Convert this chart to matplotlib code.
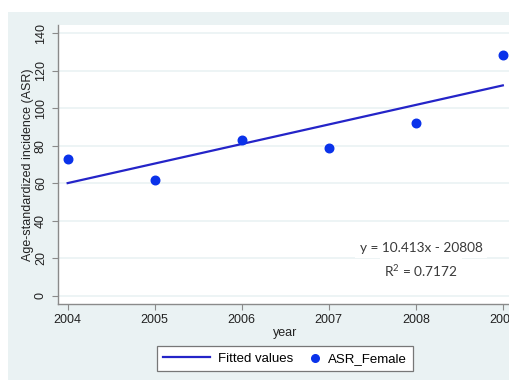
import numpy as np
import matplotlib
matplotlib.use("Agg")
import matplotlib.pyplot as plt
from matplotlib.patches import Rectangle
from matplotlib.legend_handler import HandlerPathCollection

# data
years = [2004, 2005, 2006, 2007, 2008, 2009]
asr_female = [72.7, 61.7, 82.8, 78.9, 91.9, 128.3]
y_ticks = [0, 20, 40, 60, 80, 100, 120, 140]
eq_text = "y = 10.413x - 20808"
r2_text = "R$^2$ = 0.7172"

plt.rcParams['font.family'] = ['Liberation Sans', 'DejaVu Sans']
plt.rcParams['mathtext.fontset'] = 'custom'
plt.rcParams['mathtext.rm'] = 'Lato'


# dot sits at the right end of the handle box, next to its label
class RightDot(HandlerPathCollection):
    def get_xdata(self, legend, xdescent, ydescent, width, height, fontsize):
        x = [width - xdescent - 3.6]
        return x, x


fig = plt.figure(figsize=(5.1, 3.8), dpi=100)
fig.patch.set_facecolor("white")
# light stata-like background
fig.patches.append(Rectangle((8 / 510, 0), 1, (380 - 12) / 380, transform=fig.transFigure,
                             facecolor="#eaf2f3", edgecolor="none", zorder=-5))

ax = fig.add_axes([58 / 510, (380 - 303.7) / 380, 457 / 510, 278.7 / 380])
ax.set_facecolor("white")

# linear fit
coef = np.polyfit(years, asr_female, 1)
fit = np.polyval(coef, years)
ax.plot(years, fit, color="#2424c8", lw=1.6, label="Fitted values", zorder=3)
sc = ax.scatter(years, asr_female, s=38, color="#0a32ea", label="ASR_Female", zorder=4, clip_on=False)

ax.set_xlim(2003.889, 2009.14)
ax.set_ylim(-4.3, 144.3)
ax.set_xticks(years)
ax.set_yticks(y_ticks)
ax.yaxis.grid(True, color="#eaf2f3", lw=1.2)
ax.set_axisbelow(True)

for s in ["top", "right"]:
    ax.spines[s].set_visible(False)
for s in ["left", "bottom"]:
    ax.spines[s].set_color("#8a8a8a")
    ax.spines[s].set_linewidth(1.0)
ax.tick_params(colors="#8a8a8a", length=4, labelcolor="#222222", labelsize=9)
ax.tick_params(axis="y", pad=4)
for lb in ax.get_yticklabels():
    lb.set_rotation(90)
    lb.set_va("center")

ax.set_ylabel("Age-standardized incidence (ASR)", fontsize=9, color="#222222")
ax.yaxis.set_label_coords(-0.052, 0.5)
ax.set_xlabel("year", fontsize=9, color="#222222")
ax.xaxis.set_label_coords(0.497, -0.084)

eq_font = ["Lato", "DejaVu Sans"]
ax.text(421 / 510, (380 - 247.7) / 380, eq_text, transform=fig.transFigure,
        ha="center", va="center", fontsize=9.8, family=eq_font, color="#3a3a3a",
        bbox=dict(facecolor="white", edgecolor="none", pad=3), zorder=5)
ax.text(421 / 510, (380 - 271) / 380, r2_text, transform=fig.transFigure,
        ha="center", va="center", fontsize=9.8, family=eq_font, color="#3a3a3a",
        bbox=dict(facecolor="white", edgecolor="none", pad=3), zorder=5)

leg = fig.legend(loc="center", bbox_to_anchor=(285 / 510, (380 - 358.5) / 380), ncol=2,
                 fontsize=9.5, frameon=True, fancybox=False, handlelength=3.6,
                 handletextpad=0.6, columnspacing=-1.55, borderpad=0.45, scatterpoints=1,
                 handler_map={sc: RightDot()})
leg.get_frame().set_edgecolor("#777777")
leg.get_frame().set_linewidth(0.9)
leg.get_frame().set_facecolor("white")
leg.get_frame().set_alpha(1)
leg.legend_handles[1].set_sizes([30])

fig.savefig("out.png", dpi=100)
